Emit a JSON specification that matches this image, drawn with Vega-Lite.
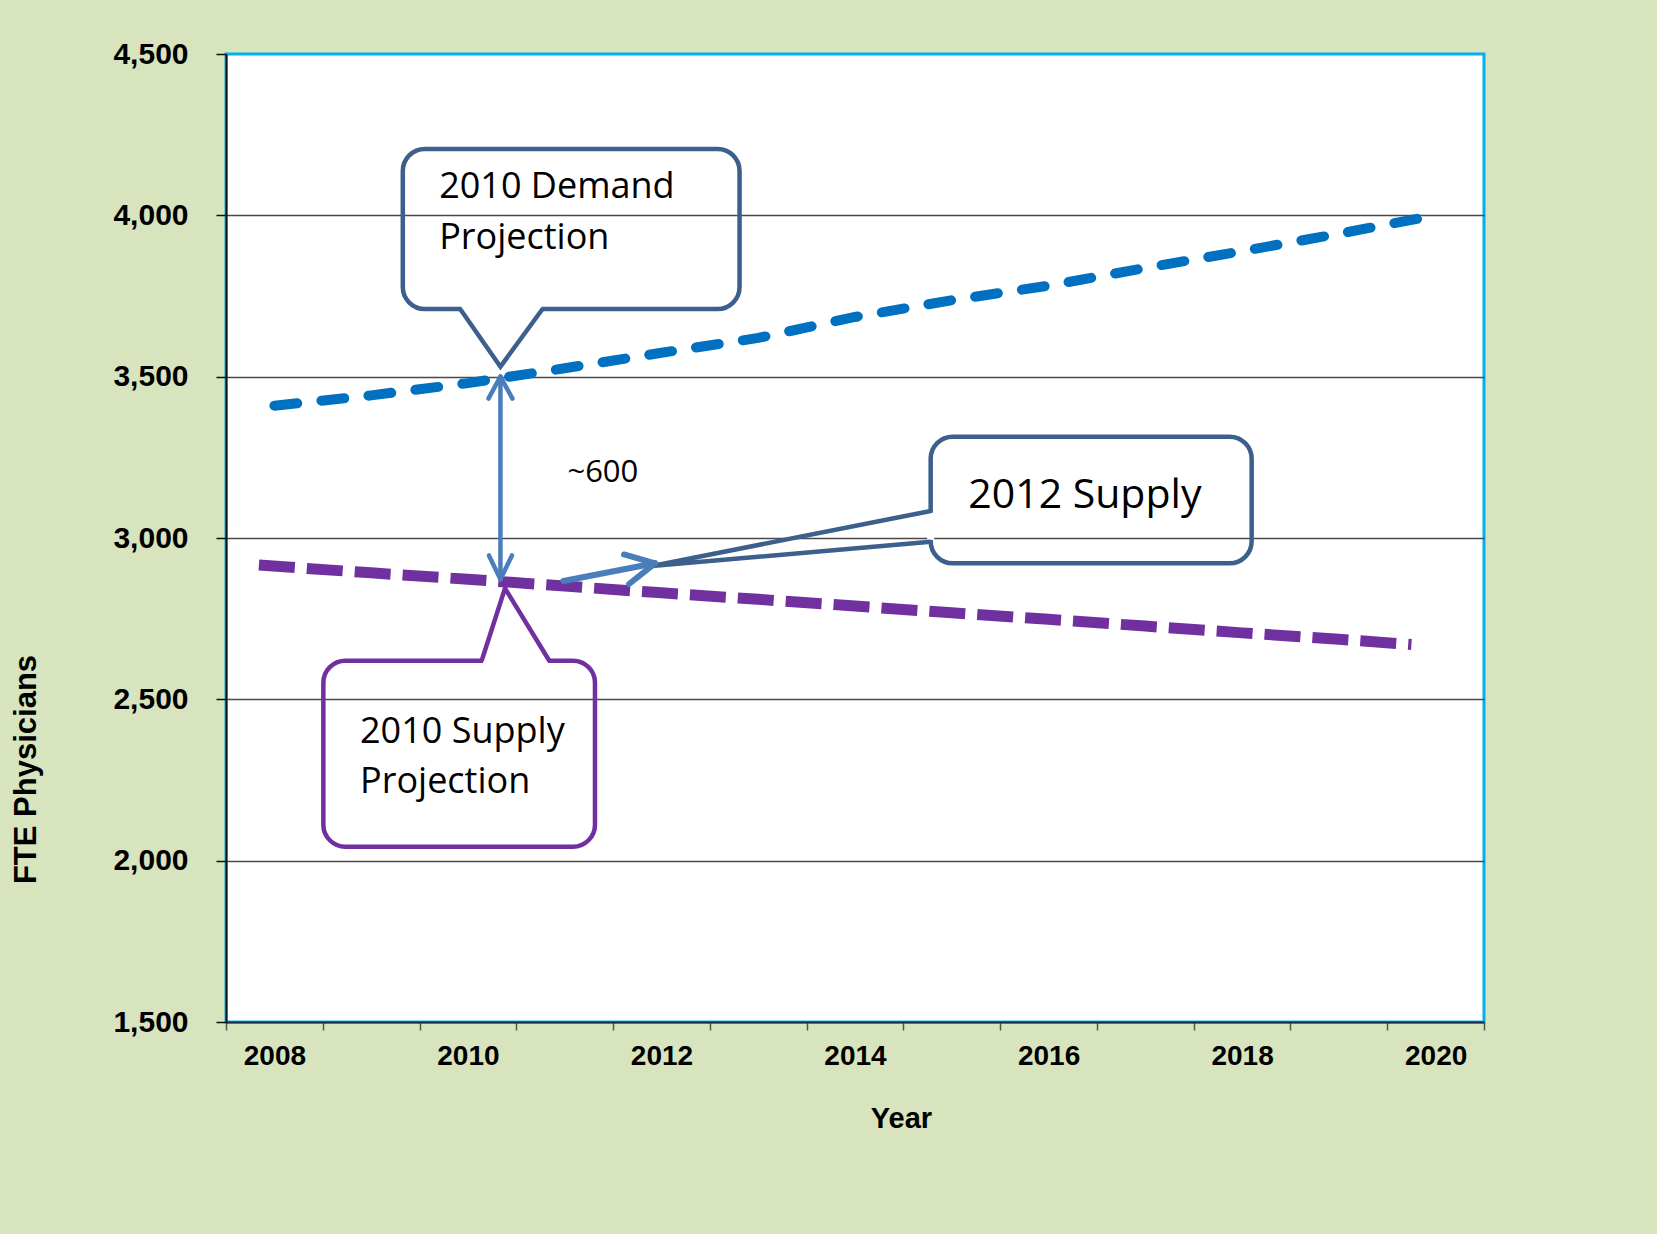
{
  "$schema": "https://vega.github.io/schema/vega-lite/v6.json",
  "width": 1258,
  "height": 968,
  "autosize": {"type": "none"},
  "padding": {"left": 226, "top": 54, "right": 173, "bottom": 212},
  "background": "#D7E4BD",
  "config": {
    "view": {"fill": "white", "stroke": "#00B0F0", "strokeWidth": 3}
  },
  "datasets": {
    "lines": [
      {"series": "demand", "year": 2008, "value": 3410},
      {"series": "demand", "year": 2009, "value": 3442},
      {"series": "demand", "year": 2010, "value": 3480},
      {"series": "demand", "year": 2011, "value": 3526},
      {"series": "demand", "year": 2012, "value": 3574},
      {"series": "demand", "year": 2013, "value": 3620},
      {"series": "demand", "year": 2014, "value": 3685},
      {"series": "demand", "year": 2015, "value": 3737},
      {"series": "demand", "year": 2016, "value": 3782},
      {"series": "demand", "year": 2017, "value": 3837},
      {"series": "demand", "year": 2018, "value": 3889},
      {"series": "demand", "year": 2019, "value": 3943},
      {"series": "demand", "year": 2020, "value": 4000},
      {"series": "supply", "year": 2007.84, "value": 2916},
      {"series": "supply", "year": 2009, "value": 2892},
      {"series": "supply", "year": 2010, "value": 2872},
      {"series": "supply", "year": 2011, "value": 2851},
      {"series": "supply", "year": 2012, "value": 2830},
      {"series": "supply", "year": 2013, "value": 2810},
      {"series": "supply", "year": 2014, "value": 2789},
      {"series": "supply", "year": 2015, "value": 2768},
      {"series": "supply", "year": 2016, "value": 2748},
      {"series": "supply", "year": 2017, "value": 2727},
      {"series": "supply", "year": 2018, "value": 2706},
      {"series": "supply", "year": 2019, "value": 2686},
      {"series": "supply", "year": 2019.75, "value": 2670}
    ],
    "boxes": [
      {"id": "demand2010", "x1": 2009.327, "x2": 2012.807, "y1": 4205.6, "y2": 3709.7},
      {"id": "supply2010", "x1": 2008.506, "x2": 2011.313, "y1": 2619.7, "y2": 2043.3},
      {"id": "supply2012", "x1": 2014.782, "x2": 2018.099, "y1": 3314, "y2": 2921.6}
    ],
    "covers": [
      {"id": "demand2010", "x1": 2009.935, "x2": 2010.757, "y1": 3709.7, "y2": 3709.7},
      {"id": "supply2010", "x1": 2010.157, "x2": 2010.826, "y1": 2619.7, "y2": 2619.7},
      {"id": "supply2012", "x1": 2014.782, "x2": 2014.782, "y1": 3078, "y2": 2994}
    ],
    "pointers": [
      {"id": "demand2010", "k": 0, "x": 2009.92, "y": 3709.7},
      {"id": "demand2010", "k": 1, "x": 2010.336, "y": 3531},
      {"id": "demand2010", "k": 2, "x": 2010.771, "y": 3709.7},
      {"id": "supply2010", "k": 0, "x": 2010.142, "y": 2619.7},
      {"id": "supply2010", "k": 1, "x": 2010.383, "y": 2844},
      {"id": "supply2010", "k": 2, "x": 2010.841, "y": 2619.7},
      {"id": "supply2012", "k": 0, "x": 2014.782, "y": 3083.7},
      {"id": "supply2012", "k": 1, "x": 2011.902, "y": 2913.2},
      {"id": "supply2012", "k": 2, "x": 2014.782, "y": 2988.5}
    ],
    "arrows": [
      {"id": "gap", "x1": 2010.336, "y1": 3500, "x2": 2010.336, "y2": 2872},
      {"id": "gap", "x1": 2010.336, "y1": 3500, "x2": 2010.212, "y2": 3432},
      {"id": "gap", "x1": 2010.336, "y1": 3500, "x2": 2010.46, "y2": 3432},
      {"id": "gap", "x1": 2010.336, "y1": 2872, "x2": 2010.217, "y2": 2946},
      {"id": "gap", "x1": 2010.336, "y1": 2872, "x2": 2010.455, "y2": 2946},
      {"id": "shift", "x1": 2010.986, "y1": 2866.7, "x2": 2011.933, "y2": 2921.6},
      {"id": "shift", "x1": 2011.933, "y1": 2921.6, "x2": 2011.613, "y2": 2948.9},
      {"id": "shift", "x1": 2011.933, "y1": 2921.6, "x2": 2011.665, "y2": 2857.4}
    ],
    "labels": [
      {"group": "callout", "x": 2009.703, "y": 4052.8, "text": "2010 Demand"},
      {"group": "callout", "x": 2009.703, "y": 3894.7, "text": "Projection"},
      {"group": "callout", "x": 2008.885, "y": 2365.6, "text": "2010 Supply"},
      {"group": "callout", "x": 2008.885, "y": 2208.8, "text": "Projection"},
      {"group": "big", "x": 2015.171, "y": 3092, "text": "2012 Supply"},
      {"group": "gap", "x": 2011.028, "y": 3174.5, "text": "~600"}
    ]
  },
  "layer": [
    {
      "data": {"name": "lines"},
      "transform": [{"filter": "datum.series == 'demand'"}],
      "mark": {"type": "line", "stroke": "#0070C0", "strokeWidth": 10, "strokeDash": [23, 24.3], "strokeCap": "round"},
      "encoding": {
        "x": {
          "field": "year", "type": "quantitative",
          "scale": {"domain": [2007.5, 2020.5], "nice": false, "zero": false},
          "axis": {
            "title": "Year",
            "values": [2007.5, 2008.5, 2009.5, 2010.5, 2011.5, 2012.5, 2013.5, 2014.5, 2015.5, 2016.5, 2017.5, 2018.5, 2019.5, 2020.5],
            "labelExpr": "(datum.value + 0.5) % 2 == 0 ? format(datum.value + 0.5, 'd') : ''",
            "labelOffset": 48.4,
            "labelBaseline": "alphabetic",
            "labelPadding": 34,
            "labelFlush": false,
            "labelOverlap": false,
            "labelBound": false,
            "labelFont": "Liberation Sans",
            "labelFontWeight": "bold",
            "labelFontSize": 28,
            "labelColor": "black",
            "grid": false,
            "tickSize": 8,
            "tickWidth": 1.5,
            "tickColor": "#555555",
            "domainColor": "#1a2a40",
            "domainWidth": 2,
            "titleFont": "Liberation Sans",
            "titleFontWeight": "bold",
            "titleFontSize": 29,
            "titleColor": "black",
            "titleX": 675,
            "titleY": 105,
            "titleAlign": "center",
            "titleBaseline": "alphabetic"
          }
        },
        "y": {
          "field": "value", "type": "quantitative",
          "scale": {"domain": [1500, 4500], "nice": false, "zero": false},
          "axis": {
            "title": "FTE Physicians",
            "values": [1500, 2000, 2500, 3000, 3500, 4000, 4500],
            "format": ",.0f",
            "grid": true,
            "gridColor": {"condition": {"test": "datum.value == 4500 || datum.value == 1500", "value": "transparent"}, "value": "#4a4a4a"},
            "gridWidth": 1.3,
            "domainColor": "#111111",
            "domainWidth": 2,
            "tickColor": "#111111",
            "tickSize": 10,
            "tickWidth": 1.5,
            "labelFont": "Liberation Sans",
            "labelFontWeight": "bold",
            "labelFontSize": 30,
            "labelColor": "black",
            "labelPadding": 28,
            "titleFont": "Liberation Sans",
            "titleFontWeight": "bold",
            "titleFontSize": 31,
            "titleColor": "black",
            "titleX": -200,
            "titleY": 715,
            "titleAngle": 270,
            "titleAlign": "center",
            "titleBaseline": "middle"
          }
        }
      }
    },
    {
      "data": {"name": "lines"},
      "transform": [{"filter": "datum.series == 'supply'"}],
      "mark": {"type": "line", "stroke": "#7030A0", "strokeWidth": 11, "strokeDash": [36, 12], "strokeCap": "butt"},
      "encoding": {
        "x": {"field": "year", "type": "quantitative"},
        "y": {"field": "value", "type": "quantitative"}
      }
    },
    {
      "data": {"name": "boxes"},
      "mark": {"type": "rect", "fill": "transparent", "strokeWidth": 4.5, "cornerRadius": 22},
      "encoding": {
        "x": {"field": "x1", "type": "quantitative"},
        "x2": {"field": "x2"},
        "y": {"field": "y1", "type": "quantitative"},
        "y2": {"field": "y2"},
        "stroke": {"field": "id", "type": "nominal", "legend": null, "scale": {"domain": ["demand2010", "supply2010", "supply2012"], "range": ["#3C5F8C", "#7030A0", "#3C5F8C"]}}
      }
    },
    {
      "data": {"name": "covers"},
      "mark": {"type": "rule", "stroke": "white", "strokeWidth": 7, "strokeCap": "butt"},
      "encoding": {
        "x": {"field": "x1", "type": "quantitative"},
        "x2": {"field": "x2"},
        "y": {"field": "y1", "type": "quantitative"},
        "y2": {"field": "y2"}
      }
    },
    {
      "data": {"name": "pointers"},
      "mark": {"type": "line", "strokeWidth": 4.5, "strokeJoin": "miter", "strokeCap": "butt"},
      "encoding": {
        "x": {"field": "x", "type": "quantitative"},
        "y": {"field": "y", "type": "quantitative"},
        "order": {"field": "k", "type": "quantitative"},
        "detail": {"field": "id", "type": "nominal"},
        "stroke": {"field": "id", "type": "nominal", "legend": null, "scale": {"domain": ["demand2010", "supply2010", "supply2012"], "range": ["#3C5F8C", "#7030A0", "#3C5F8C"]}}
      }
    },
    {
      "data": {"name": "arrows"},
      "transform": [{"filter": "datum.id == 'gap'"}],
      "mark": {"type": "rule", "stroke": "#4A7EBB", "strokeWidth": 4.5, "strokeCap": "round"},
      "encoding": {
        "x": {"field": "x1", "type": "quantitative"},
        "x2": {"field": "x2"},
        "y": {"field": "y1", "type": "quantitative"},
        "y2": {"field": "y2"}
      }
    },
    {
      "data": {"name": "arrows"},
      "transform": [{"filter": "datum.id == 'shift'"}],
      "mark": {"type": "rule", "stroke": "#4A7EBB", "strokeWidth": 6, "strokeCap": "round"},
      "encoding": {
        "x": {"field": "x1", "type": "quantitative"},
        "x2": {"field": "x2"},
        "y": {"field": "y1", "type": "quantitative"},
        "y2": {"field": "y2"}
      }
    },
    {
      "data": {"name": "labels"},
      "transform": [{"filter": "datum.group == 'callout'"}],
      "mark": {"type": "text", "font": "Open Sans", "fontSize": 36, "align": "left", "baseline": "alphabetic", "color": "black"},
      "encoding": {
        "x": {"field": "x", "type": "quantitative"},
        "y": {"field": "y", "type": "quantitative"},
        "text": {"field": "text"}
      }
    },
    {
      "data": {"name": "labels"},
      "transform": [{"filter": "datum.group == 'big'"}],
      "mark": {"type": "text", "font": "Open Sans", "fontSize": 41, "align": "left", "baseline": "alphabetic", "color": "black"},
      "encoding": {
        "x": {"field": "x", "type": "quantitative"},
        "y": {"field": "y", "type": "quantitative"},
        "text": {"field": "text"}
      }
    },
    {
      "data": {"name": "labels"},
      "transform": [{"filter": "datum.group == 'gap'"}],
      "mark": {"type": "text", "font": "Open Sans", "fontSize": 31, "align": "left", "baseline": "alphabetic", "color": "black"},
      "encoding": {
        "x": {"field": "x", "type": "quantitative"},
        "y": {"field": "y", "type": "quantitative"},
        "text": {"field": "text"}
      }
    }
  ]
}
